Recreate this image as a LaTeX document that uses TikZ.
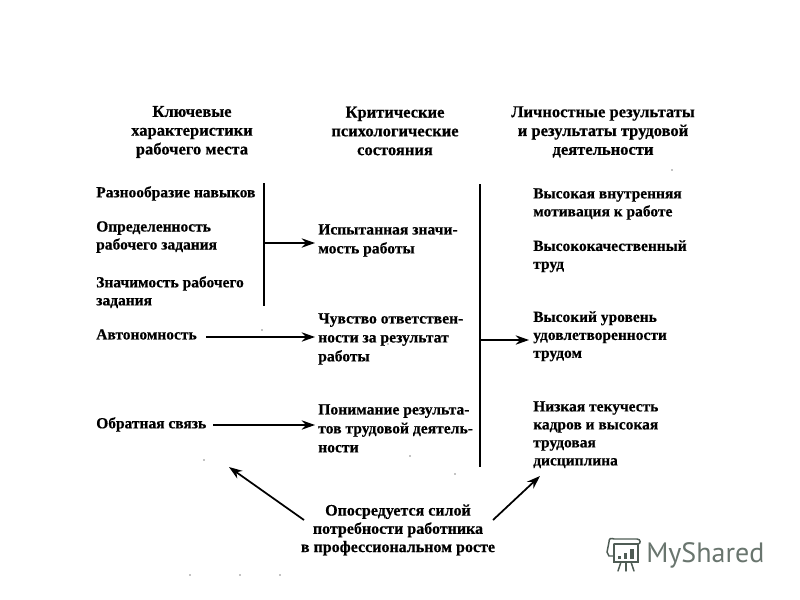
\documentclass[tikz,border=0pt]{standalone}
\usepackage{fontspec}
\setmainfont[BoldFeatures={FakeBold=0.5}]{Liberation Serif}
\newfontfamily\logofont{PT Sans}
\usetikzlibrary{arrows.meta}
\definecolor{logocol}{HTML}{4F5C55}

\tikzset{
  head/.style={font=\fontsize{12.4}{14.1}\selectfont\bfseries, align=center, inner sep=0pt},
  item/.style={font=\fontsize{11.6}{13.5}\selectfont\bfseries, align=left, anchor=north west, inner sep=0pt},
  midl/.style={item, font=\fontsize{11.7}{14.2}\selectfont\bfseries},
  bar/.style={line width=1.3pt},
  arr/.style={line width=1.3pt, -{Stealth[length=10pt,width=7pt]}},
}

\begin{document}
\begin{tikzpicture}[x=0.75pt, y=-0.75pt]
  \useasboundingbox (0,0) rectangle (800,600);

  % headers
  \node[head] (headA) at (192,132) {Ключевые\\характеристики\\рабочего места};
  \node[head] (headB) at (395,131) {Критические\\психологические\\состояния};
  \node[head] (headC) at (603,132) {Личностные результаты\\и результаты трудовой\\деятельности};

  % left column
  \node[item] (skills) at (96,186) {Разнообразие навыков};
  \node[item] (task) at (96,221) {Определенность\\рабочего задания};
  \node[item] (signif) at (96,276) {Значимость рабочего\\задания};
  \node[item] (auton) at (96,329) {Автономность};
  \node[item] (feedb) at (96,417) {Обратная связь};

  % middle column
  \node[midl] (felt) at (318,224) {Испытанная значи-\\мость работы};
  \node[midl] (resp) at (318,313) {Чувство ответствен-\\ности за результат\\работы};
  \node[midl] (know) at (318,404) {Понимание результа-\\тов трудовой деятель-\\ности};

  % right column
  \node[item] (motiv) at (533,188) {Высокая внутренняя\\мотивация к работе};
  \node[item] (qual) at (533,240) {Высококачественный\\труд};
  \node[item] (satisf) at (533,311) {Высокий уровень\\удовлетворенности\\трудом};
  \node[item] (turn) at (533,401) {Низкая текучесть\\кадров и высокая\\трудовая\\дисциплина};

  % bottom
  \node[head, font=\fontsize{12}{13.7}\selectfont\bfseries] (growth) at (398,530) {Опосредуется силой\\потребности работника\\в профессиональном росте};

  % bars
  \coordinate (barAt) at (264,183);
  \coordinate (barAb) at (264,306);
  \coordinate (barAm) at (264,243);
  \coordinate (barBt) at (480,184);
  \coordinate (barBb) at (480,467);
  \coordinate (barBm) at (480,340);
  \draw[bar] (barAt) -- (barAb);
  \draw[bar] (barBt) -- (barBb);

  % arrows
  \coordinate (feltIn) at (315,243);
  \coordinate (autonOut) at (206,337);
  \coordinate (respIn) at (315,337);
  \coordinate (feedbOut) at (213,425);
  \coordinate (knowIn) at (315,425);
  \coordinate (satisfIn) at (529,340);
  \coordinate (growthL) at (304,520);
  \coordinate (leftEnd) at (229,467);
  \coordinate (growthR) at (493,520);
  \coordinate (rightEnd) at (540,476);
  \draw[arr] (barAm) -- (feltIn);
  \draw[arr] (autonOut) -- (respIn);
  \draw[arr] (feedbOut) -- (knowIn);
  \draw[arr] (barBm) -- (satisfIn);
  \draw[arr] (growthL) -- (leftEnd);
  \draw[arr] (growthR) -- (rightEnd);

  % specks
  \foreach \px/\py in {262/330, 672/170, 444/318, 204/460, 410/456, 455/474, 388/344, 190/575, 240/575, 280/575}
    \fill (\px,\py) circle (0.6);

  % logo
  \begin{scope}[draw=logocol, fill=logocol, line width=1.1pt, line cap=round]
    \draw (614,544) -- (638,544) -- (638,562) -- (614,562) -- (614,544);
    \draw (613,556) -- (609,556) -- (607,552) -- (609,542) .. controls (609,538) and (611,538) .. (614,539) -- (637,539) .. controls (641,539) and (641,544) .. (638,544);
    \draw (621,562) -- (618,571);
    \draw (626,562) -- (626,571);
    \draw (631,562) -- (634,571);
    \fill (618,556) rectangle (621,559);
    \fill (624,553) rectangle (627,559);
    \fill (630,549) rectangle (634,559);
  \end{scope}
  \node[font=\logofont\fontsize{21}{24}\selectfont, text=logocol!85, inner sep=0pt, anchor=west] (logo) at (646,555) {MyShared};
\end{tikzpicture}
\end{document}
